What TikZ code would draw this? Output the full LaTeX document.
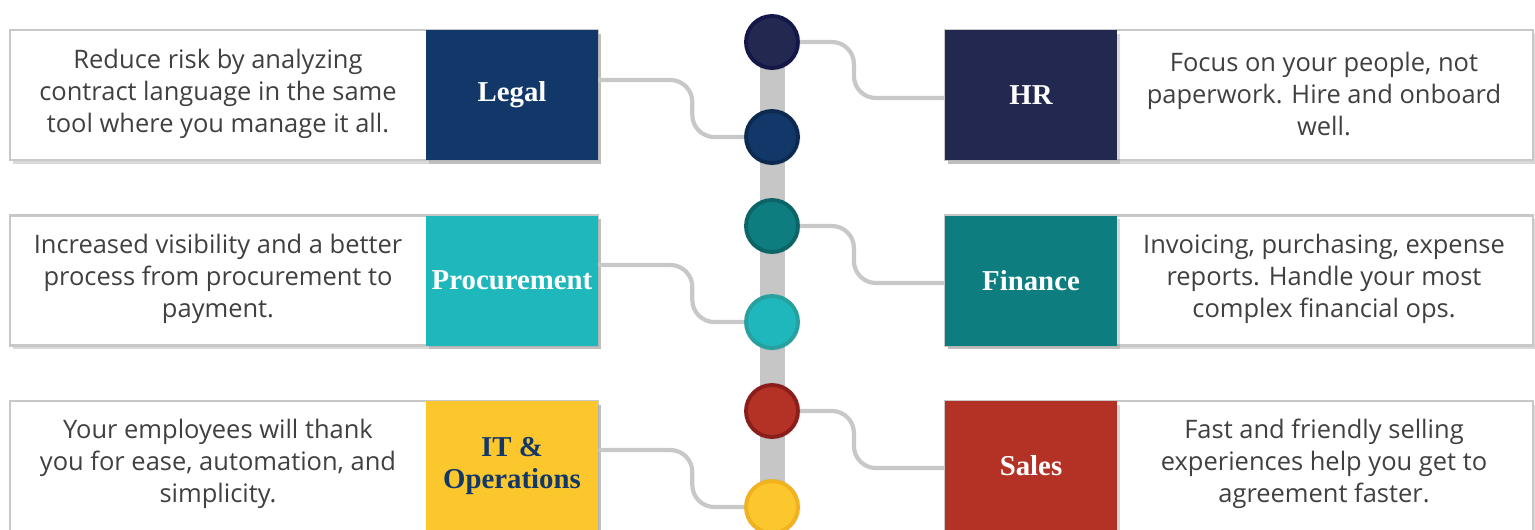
\documentclass[tikz,border=0pt]{standalone}
\usepackage{fontspec}
\setmainfont{Open Sans}
\newfontfamily\labelfont{Liberation Serif}
\usetikzlibrary{shadows}
\definecolor{hrcol}{HTML}{222850}
\definecolor{hrrim}{HTML}{141748}
\definecolor{legalcol}{HTML}{12386A}
\definecolor{legalrim}{HTML}{0C2A50}
\definecolor{fincol}{HTML}{0E7D80}
\definecolor{finrim}{HTML}{0B6567}
\definecolor{proccol}{HTML}{1EB8BC}
\definecolor{procrim}{HTML}{27A19F}
\definecolor{salescol}{HTML}{B33225}
\definecolor{salesrim}{HTML}{8B1E1A}
\definecolor{itcol}{HTML}{FCC62D}
\definecolor{itrim}{HTML}{F0B21E}
\definecolor{boxline}{HTML}{C8C8C8}
\definecolor{barcol}{HTML}{C6C6C6}
\definecolor{txtcol}{HTML}{404040}
\begin{document}
\begin{tikzpicture}[x=0.02cm,y=-0.02cm,
  descbox/.style={draw=boxline, line width=1.2pt, fill=white,
    minimum width=11.76cm, minimum height=2.6cm, inner sep=0pt,
    drop shadow={shadow xshift=1.5pt, shadow yshift=-2pt, opacity=0.3}},
  desctext/.style={align=center, text=txtcol, inner sep=0pt,
    font=\fontsize{14.5}{18.1}\selectfont},
  tag/.style={text=white, align=center, inner sep=0pt,
    minimum width=3.44cm, minimum height=2.6cm,
    font=\labelfont\bfseries\fontsize{16.4}{18.5}\selectfont,
    drop shadow={shadow xshift=1.5pt, shadow yshift=-2pt, opacity=0.3}},
  dot/.style={circle, line width=2.2pt, minimum size=1.04cm, inner sep=0pt,
    circular drop shadow={shadow xshift=0pt, shadow yshift=0pt,
      shadow scale=1.12, opacity=0.3}},
  link/.style={draw=boxline, line width=2.4pt, rounded corners=0.44cm}]
  \useasboundingbox (0,0) rectangle (1535,529);

  % central bar
  \fill[barcol] (760,40) rectangle (785,529);

  % left side
  \node[descbox] (legalbox) at (304,95) {};
  \node[desctext] (legaltxt) at (218,94) {Reduce risk by analyzing\\contract language in the same\\tool where you manage it all.};
  \node[tag, fill=legalcol] (legal) at (512,95) {Legal};

  \node[descbox] (procbox) at (304,280.5) {};
  \node[desctext] (proctxt) at (218,279) {Increased visibility and a better\\process from procurement to\\payment.};
  \node[tag, fill=proccol] (proc) at (512,280.5) {Procurement};

  \node[descbox] (itbox) at (304,466) {};
  \node[desctext] (ittxt) at (218,464) {Your employees will thank\\you for ease, automation, and\\simplicity.};
  \node[tag, fill=itcol, text=legalcol] (it) at (512,466) {IT \&\\Operations};

  % right side
  \node[descbox] (hrbox) at (1239,95) {};
  \node[desctext] (hrtxt) at (1324,94) {Focus on your people, not\\paperwork. Hire and onboard\\well.};
  \node[tag, fill=hrcol] (hr) at (1031,95) {HR};

  \node[descbox] (finbox) at (1239,280.5) {};
  \node[desctext] (fintxt) at (1324,279) {Invoicing, purchasing, expense\\reports. Handle your most\\complex financial ops.};
  \node[tag, fill=fincol] (fin) at (1031,280.5) {Finance};

  \node[descbox] (salesbox) at (1239,466) {};
  \node[desctext] (salestxt) at (1324,464) {Fast and friendly selling\\experiences help you get to\\agreement faster.};
  \node[tag, fill=salescol] (sales) at (1031,466) {Sales};

  % dots on the bar
  \node[dot, fill=hrcol, draw=hrrim] (chr) at (772,42) {};
  \node[dot, fill=legalcol, draw=legalrim] (clegal) at (772,137) {};
  \node[dot, fill=fincol, draw=finrim] (cfin) at (772,226) {};
  \node[dot, fill=proccol, draw=procrim] (cproc) at (772,322) {};
  \node[dot, fill=salescol, draw=salesrim] (csales) at (772,411) {};
  \node[dot, fill=itcol, draw=itrim] (cit) at (772,507) {};

  % connectors
  \draw[link] ([yshift=0.3cm]legal.east) -- ++(94,0) |- (clegal.west);
  \draw[link] ([yshift=0.31cm]proc.east) -- ++(94,0) |- (cproc.west);
  \draw[link] ([yshift=0.32cm]it.east) -- ++(94,0) |- (cit.west);
  \draw[link] (chr.east) -- ++(54,0) |- ([yshift=-0.06cm]hr.west);
  \draw[link] (cfin.east) -- ++(54,0) |- ([yshift=-0.05cm]fin.west);
  \draw[link] (csales.east) -- ++(54,0) |- ([yshift=-0.04cm]sales.west);
\end{tikzpicture}
\end{document}
